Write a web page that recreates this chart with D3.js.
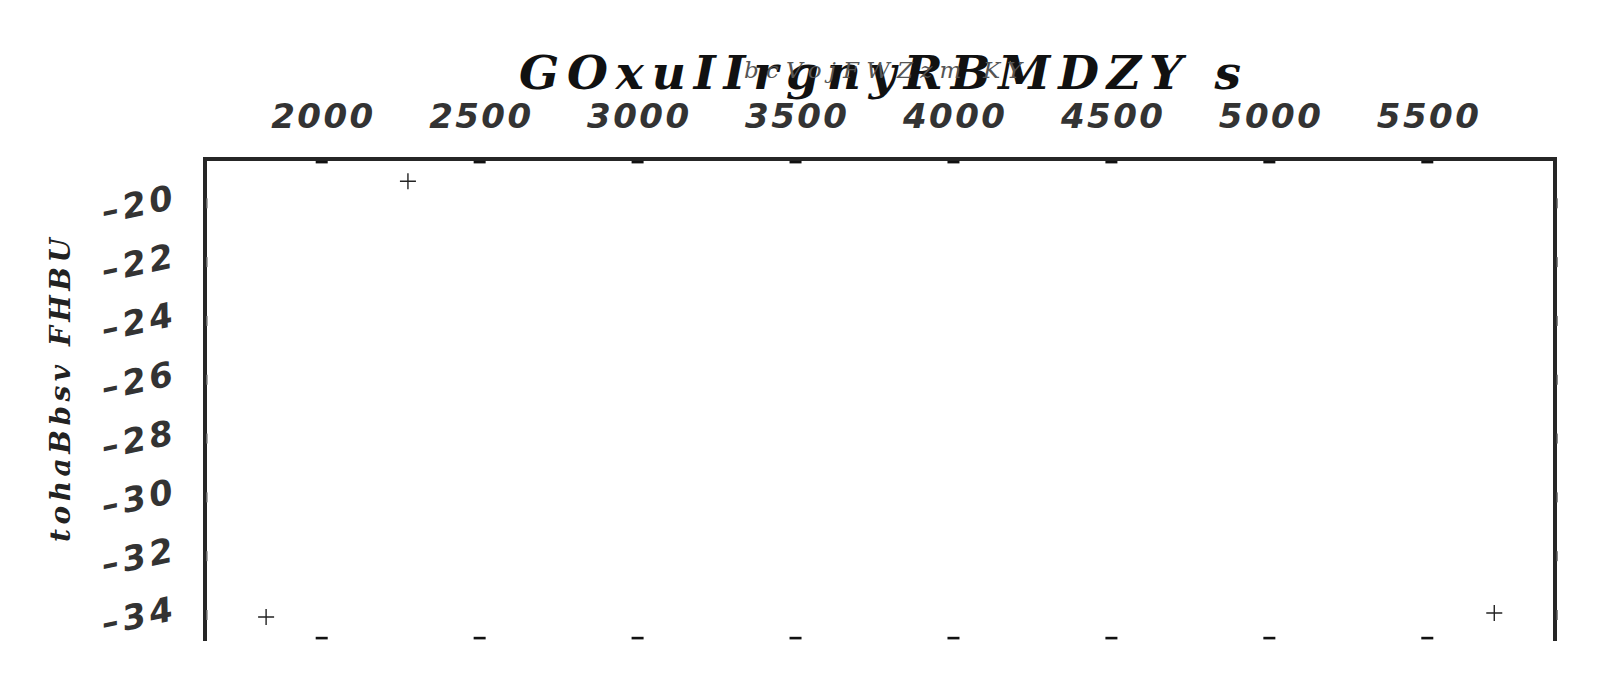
<!DOCTYPE html>
<html><head><meta charset="utf-8">
<script src="https://cdn.jsdelivr.net/npm/d3@7"></script>
<style>html,body{margin:0;padding:0;background:#fff;overflow:hidden}</style>
</head><body>
<script>
const title = "GOxuIIrgnyRBMDZY s";
const xLabel = "bcVojFWZzm KY";
const yLabel = "tohaBbsv FHBU";
const xTicks = [2000, 2500, 3000, 3500, 4000, 4500, 5000, 5500];
const yTicks = [-20, -22, -24, -26, -28, -30, -32, -34];
const pointX = [2273, 1824, 5712];
const pointY = [-19.25, -34.07, -33.93];

const W = 1603, H = 687;
const fLeft = 205, fRight = 1555, fTop = 159, fBottom = 641;
const svg = d3.select("body").append("svg").attr("width", W).attr("height", H);

const x = d3.scaleLinear().domain([2000, 5500]).range([321.7, 1427.3]);
const y = d3.scaleLinear().domain([-34, -20]).range([615, 203.3]);
const serif = "'DejaVu Serif', serif";
const sans = "'DejaVu Sans', sans-serif";

// frame
svg.append("path").attr("d", `M${fLeft},${fBottom}V${fTop}H${fRight}V${fBottom}`)
  .attr("fill", "none").attr("stroke", "#262626").attr("stroke-width", 4);

// x tick dashes (top & bottom)
[162, 638].forEach(yy => {
  svg.selectAll(null).data(xTicks).enter().append("rect")
    .attr("x", d => x(d) - 6).attr("y", yy - 1.2).attr("width", 12).attr("height", 2.6)
    .attr("fill", "#111");
});
// y tick marks (small vertical gray marks)
[207, 1557.3].forEach(xx => {
  svg.selectAll(null).data(yTicks).enter().append("rect")
    .attr("x", xx - 0.7).attr("y", d => y(d) - 5).attr("width", 1.4).attr("height", 10)
    .attr("fill", "#888");
});

// x tick labels (top)
const xa = d3.axisTop(x).tickValues(xTicks).tickSize(0).tickFormat(d3.format("d"));
const gx = svg.append("g").attr("transform", "translate(0,128)").call(xa);
gx.select(".domain").remove();
gx.selectAll("text").attr("y", 0).attr("dy", 0)
  .attr("font-family", sans).attr("font-weight", "bold").attr("font-style", "italic")
  .attr("font-size", 34).attr("fill", "#333")
  .attr("textLength", 102).attr("lengthAdjust", "spacing");

// y tick labels (left), rotated
const ya = d3.axisLeft(y).tickValues(yTicks).tickSize(0);
const gy = svg.append("g").call(ya);
gy.select(".domain").remove();
gy.selectAll(".tick").attr("transform", d => `translate(175,${y(d) + 5}) rotate(-12)`);
gy.selectAll("text").attr("x", 0).attr("dy", 0).attr("text-anchor", "end")
  .attr("font-family", sans).attr("font-weight", "bold").attr("font-style", "italic")
  .attr("font-size", 34).attr("fill", "#333")
  .attr("textLength", 72).attr("lengthAdjust", "spacing")
  .text(d => (d < 0 ? "\u2013" : "") + Math.abs(d));

// y label
svg.append("text").attr("transform", `translate(70,390) rotate(-90)`)
  .attr("text-anchor", "middle").attr("font-family", serif).attr("font-weight", "bold")
  .attr("font-style", "italic").attr("font-size", 28).attr("fill", "#222")
  .attr("textLength", 304).attr("lengthAdjust", "spacing").text(yLabel);

// title
svg.append("text").attr("x", 880).attr("y", 89).attr("text-anchor", "middle")
  .attr("font-family", serif).attr("font-weight", "bold").attr("font-style", "italic")
  .attr("font-size", 47).attr("fill", "#111")
  .attr("textLength", 722).attr("lengthAdjust", "spacing").text(title);

// x label
svg.append("text").attr("x", 883).attr("y", 78).attr("text-anchor", "middle")
  .attr("font-family", serif).attr("font-style", "italic")
  .attr("font-size", 23).attr("fill", "#555")
  .attr("textLength", 278).attr("lengthAdjust", "spacing").text(xLabel);

// points
svg.selectAll(".pt").data(pointX.map((v, i) => [v, pointY[i]])).enter().append("path")
  .attr("class", "pt")
  .attr("d", d => `M${x(d[0]) - 8},${y(d[1])}H${x(d[0]) + 8}M${x(d[0])},${y(d[1]) - 8}V${y(d[1]) + 8}`)
  .attr("stroke", "#222").attr("stroke-width", 1.4).attr("fill", "none");
</script>
</body></html>
